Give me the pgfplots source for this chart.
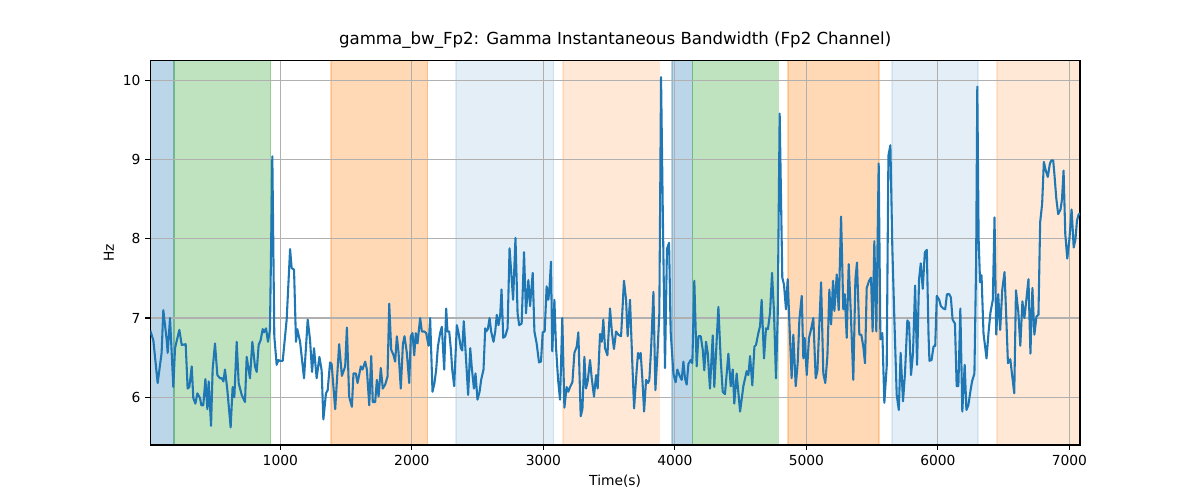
\documentclass[border=0pt]{standalone}
\usepackage{fontspec}
\setmainfont{DejaVu Sans}
\usepackage{pgfplots}
\pgfplotsset{compat=1.18}
\definecolor{tabblue}{HTML}{1F77B4}
\definecolor{taborange}{HTML}{FF7F0E}
\definecolor{tabgreen}{HTML}{2CA02C}
\definecolor{gridgray}{HTML}{B0B0B0}
\pgfplotstableread{
x y
11 6.84
34 6.72
67 6.18
97 6.56
110 7.10
136 6.72
143 6.56
161 7.00
186 6.13
199 6.62
232 6.85
250 6.66
280 6.67
295 6.11
308 6.13
326 6.39
338 5.99
354 5.92
369 6.05
389 5.99
399 5.90
414 5.90
430 6.23
445 5.85
455 6.20
473 5.64
485 6.35
503 6.68
521 6.28
541 6.24
556 6.24
567 6.20
579 6.35
597 6.09
622 5.62
637 6.13
650 6.00
668 6.70
683 6.18
706 6.03
731 5.94
744 6.51
769 6.24
787 6.70
807 6.39
820 6.32
835 6.66
850 6.72
866 6.86
876 6.82
891 6.87
906 6.70
921 6.85
939 9.04
954 6.77
972 6.41
985 6.47
997 6.46
1018 6.46
1048 6.98
1074 7.87
1086 7.63
1104 7.61
1119 6.70
1129 6.86
1150 6.70
1180 6.24
1208 6.98
1226 6.72
1241 6.32
1256 6.62
1276 6.24
1297 6.51
1314 6.34
1327 5.72
1347 6.05
1360 6.09
1378 6.44
1390 6.42
1417 5.85
1447 6.67
1468 6.27
1493 6.39
1506 6.88
1523 6.01
1544 5.88
1556 6.30
1574 6.30
1587 6.18
1612 6.39
1625 6.35
1645 6.45
1658 6.35
1676 5.90
1691 6.52
1703 5.94
1721 5.94
1734 6.22
1747 6.01
1764 6.37
1779 6.11
1797 6.16
1815 6.26
1828 7.18
1843 6.60
1861 6.53
1873 6.45
1886 6.77
1899 6.56
1916 6.11
1932 6.67
1944 6.77
1962 6.56
1980 6.18
1992 6.77
2005 6.81
2018 6.53
2030 6.81
2043 6.68
2063 7.00
2076 6.83
2094 6.83
2109 6.81
2127 6.65
2139 7.00
2157 6.07
2172 6.18
2185 6.35
2198 6.64
2215 6.81
2228 6.89
2246 6.35
2261 7.12
2271 6.83
2284 6.83
2297 6.60
2307 6.35
2322 6.14
2342 6.91
2355 6.81
2373 6.62
2383 6.59
2395 6.96
2411 6.51
2428 6.03
2444 6.62
2456 6.37
2472 6.11
2484 6.30
2499 5.97
2515 6.07
2527 6.22
2545 6.35
2558 6.87
2565 6.83
2578 6.86
2591 7.00
2603 6.83
2621 6.70
2634 6.83
2646 7.04
2659 6.91
2672 7.04
2682 7.36
2695 6.75
2710 6.77
2728 6.87
2743 7.88
2755 7.59
2770 7.23
2788 8.01
2804 7.06
2816 6.91
2835 6.93
2853 7.83
2868 7.06
2886 7.48
2899 7.15
2919 7.57
2932 6.83
2949 6.68
2967 6.44
2982 6.45
2995 6.82
3010 6.83
3025 7.40
3038 7.23
3046 7.36
3058 7.71
3068 6.58
3084 7.23
3096 6.64
3112 6.22
3127 5.97
3144 7.00
3160 5.87
3177 6.13
3190 6.07
3203 6.13
3221 6.19
3236 6.56
3254 6.64
3266 6.82
3284 5.76
3297 5.85
3312 6.51
3324 6.11
3337 6.20
3355 6.47
3368 6.24
3385 6.01
3401 6.28
3413 6.11
3431 6.80
3444 6.70
3456 6.98
3469 6.62
3487 6.53
3507 7.12
3522 6.81
3537 6.61
3553 6.83
3570 6.79
3591 6.77
3613 7.47
3629 7.23
3641 6.77
3659 7.23
3677 6.41
3690 5.86
3710 6.35
3720 6.56
3730 6.49
3740 6.56
3753 6.23
3766 5.82
3781 6.22
3796 6.18
3806 6.22
3819 6.60
3837 7.33
3852 6.09
3867 6.53
3882 7.06
3895 10.04
3908 8.37
3925 6.37
3940 7.87
3956 7.95
3968 6.83
3989 6.30
4006 6.19
4019 6.35
4034 6.28
4052 6.22
4065 6.45
4077 6.24
4090 6.16
4103 6.42
4120 6.47
4133 6.43
4148 7.47
4166 6.39
4179 6.77
4197 6.77
4212 6.60
4224 6.34
4237 6.70
4250 6.56
4267 6.11
4288 6.78
4300 6.13
4331 7.14
4349 6.47
4364 6.07
4381 6.04
4407 6.55
4425 6.14
4440 6.35
4452 5.92
4470 6.30
4496 5.82
4521 6.14
4546 6.33
4559 6.28
4572 6.52
4589 6.15
4605 6.64
4617 6.66
4635 6.81
4648 6.90
4660 7.23
4678 6.49
4693 6.87
4708 6.86
4724 7.07
4739 7.57
4754 7.07
4769 6.24
4782 7.02
4797 9.58
4817 7.51
4830 7.42
4845 7.11
4858 7.49
4876 6.73
4888 6.24
4901 6.79
4919 6.14
4934 6.43
4947 6.98
4965 7.28
4977 6.49
4987 6.75
5003 6.28
5020 6.75
5035 6.85
5053 7.00
5071 6.24
5084 6.33
5096 6.81
5112 7.45
5129 6.30
5144 6.18
5160 6.52
5175 7.36
5188 6.92
5203 7.47
5213 7.09
5231 7.55
5246 7.10
5264 8.28
5281 7.11
5292 7.30
5307 6.75
5322 7.68
5337 7.11
5357 6.22
5373 7.49
5385 7.70
5403 6.79
5418 6.79
5433 6.64
5446 6.43
5459 7.38
5477 7.47
5492 7.51
5504 6.83
5517 7.97
5532 6.83
5550 8.95
5563 6.73
5578 6.81
5593 5.93
5611 6.39
5624 9.05
5639 9.18
5654 7.87
5669 7.00
5687 6.03
5703 5.84
5717 6.56
5735 5.95
5750 6.30
5768 6.97
5781 6.94
5796 6.28
5811 6.56
5827 7.41
5842 6.41
5857 7.49
5870 7.69
5885 7.37
5901 7.83
5916 7.86
5929 6.79
5936 6.46
5952 6.47
5967 6.64
5980 6.65
5992 7.28
6010 7.23
6023 7.15
6041 7.12
6056 7.11
6069 7.30
6087 7.30
6099 7.26
6112 6.98
6130 6.93
6143 6.14
6156 6.14
6171 7.12
6186 5.82
6204 6.41
6217 5.84
6232 5.90
6247 6.07
6260 6.20
6278 6.30
6291 7.70
6300 9.92
6310 8.00
6321 7.45
6332 7.54
6347 6.81
6370 6.49
6385 6.81
6400 7.07
6418 7.23
6431 8.27
6444 6.79
6459 7.30
6474 6.85
6490 7.36
6507 7.58
6520 7.02
6533 6.43
6551 6.48
6566 6.26
6581 6.05
6594 7.35
6612 7.07
6627 6.65
6643 7.21
6658 7.00
6673 7.23
6689 7.49
6704 6.55
6719 7.38
6734 6.79
6750 7.02
6765 7.04
6778 8.21
6793 8.44
6806 8.97
6821 8.86
6836 8.78
6852 8.95
6864 8.99
6877 8.99
6887 8.80
6900 8.52
6915 8.31
6933 8.37
6944 8.50
6956 8.86
6969 8.06
6984 7.75
7000 7.99
7017 8.37
7033 7.89
7046 7.99
7058 8.23
7071 8.31
7081 8.32
}\gammadata
\begin{document}
\begin{tikzpicture}
\begin{axis}[
  set layers=standard,
  scale only axis,
  width=9.297in, height=3.847in,
  at={(0,0)}, anchor=south west,
  xmin=11, xmax=7081, ymin=5.398, ymax=10.252,
  xtick={1000,2000,3000,4000,5000,6000,7000},
  ytick={6,7,8,9,10},
  grid=major,
  major grid style={gridgray, line width=0.8bp},
  axis line style={line width=0.8bp},
  tick align=outside, xtick pos=lower, ytick pos=left,
  major tick length=3.5bp,
  tick style={black, line width=0.8bp},
  /pgf/number format/assume math mode=true,
  /pgf/number format/1000 sep={},
  tick label style={font=\fontsize{10}{12}\selectfont},
  title={gamma\_bw\_Fp2: Gamma Instantaneous Bandwidth (Fp2 Channel)},
  title style={at={(axis description cs:0.5,1.0197)}, anchor=base, font=\fontsize{12}{14}\selectfont},
  xlabel={Time(s)},
  xlabel style={at={(axis description cs:0.5,-0.1057)}, anchor=base, font=\fontsize{10}{12}\selectfont},
  ylabel={Hz},
  ylabel style={at={(axis description cs:-0.03905,0.5)}, anchor=base, font=\fontsize{10}{12}\selectfont},
]
% shaded spans (behind the grid)
\addplot[on layer=axis background, fill=tabblue, draw=tabblue, line width=1bp, opacity=0.3] coordinates {(11,5.398) (192,5.398) (192,10.252) (11,10.252)} -- cycle;
\addplot[on layer=axis background, fill=tabgreen, draw=tabgreen, line width=1bp, opacity=0.3] coordinates {(192,5.398) (927,5.398) (927,10.252) (192,10.252)} -- cycle;
\addplot[on layer=axis background, fill=taborange, draw=taborange, line width=1bp, opacity=0.3] coordinates {(1386,5.398) (2121,5.398) (2121,10.252) (1386,10.252)} -- cycle;
\addplot[on layer=axis background, fill=tabblue, draw=tabblue, line width=1bp, opacity=0.12] coordinates {(2336,5.398) (3079,5.398) (3079,10.252) (2336,10.252)} -- cycle;
\addplot[on layer=axis background, fill=taborange, draw=taborange, line width=1bp, opacity=0.17] coordinates {(3150,5.398) (3882,5.398) (3882,10.252) (3150,10.252)} -- cycle;
\addplot[on layer=axis background, fill=tabblue, draw=tabblue, line width=1bp, opacity=0.3] coordinates {(3979,5.398) (4133,5.398) (4133,10.252) (3979,10.252)} -- cycle;
\addplot[on layer=axis background, fill=tabgreen, draw=tabgreen, line width=1bp, opacity=0.3] coordinates {(4133,5.398) (4787,5.398) (4787,10.252) (4133,10.252)} -- cycle;
\addplot[on layer=axis background, fill=taborange, draw=taborange, line width=1bp, opacity=0.3] coordinates {(4861,5.398) (5551,5.398) (5551,10.252) (4861,10.252)} -- cycle;
\addplot[on layer=axis background, fill=tabblue, draw=tabblue, line width=1bp, opacity=0.12] coordinates {(5652,5.398) (6304,5.398) (6304,10.252) (5652,10.252)} -- cycle;
\addplot[on layer=axis background, fill=taborange, draw=taborange, line width=1bp, opacity=0.17] coordinates {(6451,5.398) (7081,5.398) (7081,10.252) (6451,10.252)} -- cycle;
% signal
\addplot[tabblue, line width=1.5bp, line join=round, mark=none] table[x=x, y=y] {\gammadata};
\end{axis}
\path (-1.503in,-0.55in) rectangle (10.497in,4.45in);
\end{tikzpicture}
\end{document}
